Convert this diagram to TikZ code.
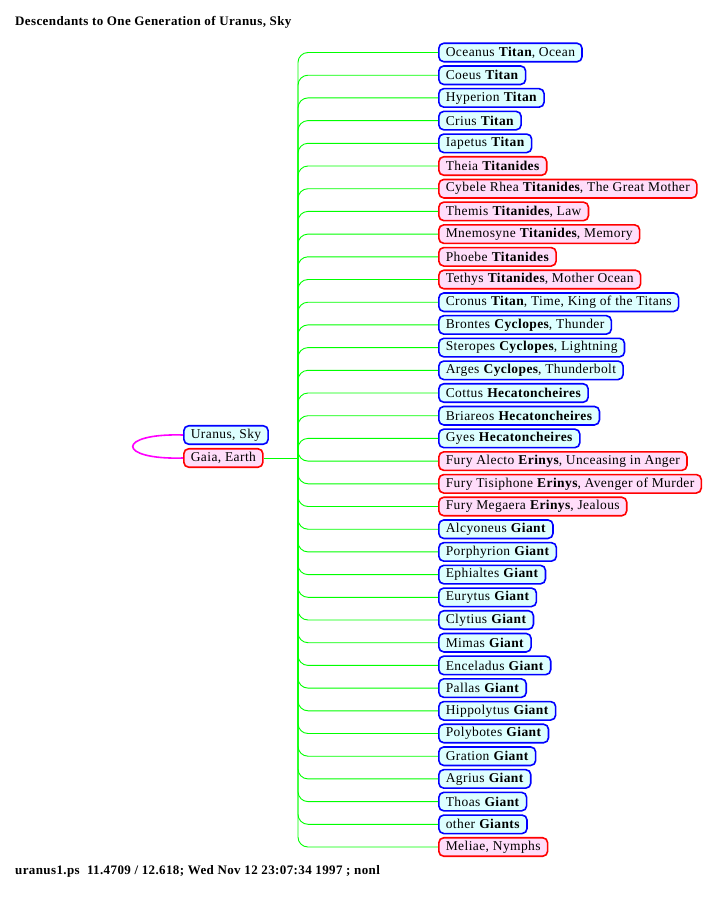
\documentclass[tikz,border=0pt]{standalone}
\usepackage{fontspec}
\setmainfont{Liberation Serif}[LetterSpace=3]
\definecolor{bfill}{RGB}{221,255,255}
\definecolor{rfill}{RGB}{255,221,250}
\definecolor{gline}{RGB}{0,255,0}
\definecolor{mline}{RGB}{255,0,255}
\begin{document}
\begin{tikzpicture}[x=1pt,y=-1pt,
  person/.style={draw,rounded corners=5pt,line width=1.6pt,minimum height=18.5pt,
    inner xsep=7pt,inner ysep=0pt,anchor=west,font=\fontsize{13.5}{14}\selectfont},
  bl/.style={person,draw=blue,fill=bfill},
  rd/.style={person,draw=red,fill=rfill},
  caption/.style={anchor=west,inner sep=0pt,font=\bfseries\fontsize{13}{14}\selectfont},
  branch/.style={draw=gline,line width=0.9pt,rounded corners=10pt},
  spouse/.style={draw=mline,line width=1.6pt}]
\useasboundingbox (0,0) rectangle (717,900);
\node[caption] (title) at (15,22) {Descendants to One Generation of Uranus, Sky};
\node[caption] (foot) at (15,871) {uranus1.ps\ \ 11.4709 / 12.618; Wed Nov 12 23:07:34 1997 ; nonl};
\node[bl] (u) at (183,435) {Uranus, Sky};
\node[rd] (g) at (183,458) {Gaia, Earth};
\draw[spouse] (u.west) .. controls (116,433) and (116,460) .. (g.west);
\coordinate (j) at (298,458);
\draw[branch] (g.east) -- (j);
\foreach \t/\s [count=\i from 0] in {
 {Oceanus \textbf{Titan}, Ocean}/bl,
 {Coeus \textbf{Titan}}/bl,
 {Hyperion \textbf{Titan}}/bl,
 {Crius \textbf{Titan}}/bl,
 {Iapetus \textbf{Titan}}/bl,
 {Theia \textbf{Titanides}}/rd,
 {Cybele Rhea \textbf{Titanides}, The Great Mother}/rd,
 {Themis \textbf{Titanides}, Law}/rd,
 {Mnemosyne \textbf{Titanides}, Memory}/rd,
 {Phoebe \textbf{Titanides}}/rd,
 {Tethys \textbf{Titanides}, Mother Ocean}/rd,
 {Cronus \textbf{Titan}, Time, King of the Titans}/bl,
 {Brontes \textbf{Cyclopes}, Thunder}/bl,
 {Steropes \textbf{Cyclopes}, Lightning}/bl,
 {Arges \textbf{Cyclopes}, Thunderbolt}/bl,
 {Cottus \textbf{Hecatoncheires}}/bl,
 {Briareos \textbf{Hecatoncheires}}/bl,
 {Gyes \textbf{Hecatoncheires}}/bl,
 {Fury Alecto \textbf{Erinys}, Unceasing in Anger}/rd,
 {Fury Tisiphone \textbf{Erinys}, Avenger of Murder}/rd,
 {Fury Megaera \textbf{Erinys}, Jealous}/rd,
 {Alcyoneus \textbf{Giant}}/bl,
 {Porphyrion \textbf{Giant}}/bl,
 {Ephialtes \textbf{Giant}}/bl,
 {Eurytus \textbf{Giant}}/bl,
 {Clytius \textbf{Giant}}/bl,
 {Mimas \textbf{Giant}}/bl,
 {Enceladus \textbf{Giant}}/bl,
 {Pallas \textbf{Giant}}/bl,
 {Hippolytus \textbf{Giant}}/bl,
 {Polybotes \textbf{Giant}}/bl,
 {Gration \textbf{Giant}}/bl,
 {Agrius \textbf{Giant}}/bl,
 {Thoas \textbf{Giant}}/bl,
 {other \textbf{Giants}}/bl,
 {Meliae, Nymphs}/rd}{
  \node[\s] (c\i) at (438,{52.5+\i*22.7}) {\t};
  \draw[branch] (j) |- (c\i.west);
}
\end{tikzpicture}
\end{document}
